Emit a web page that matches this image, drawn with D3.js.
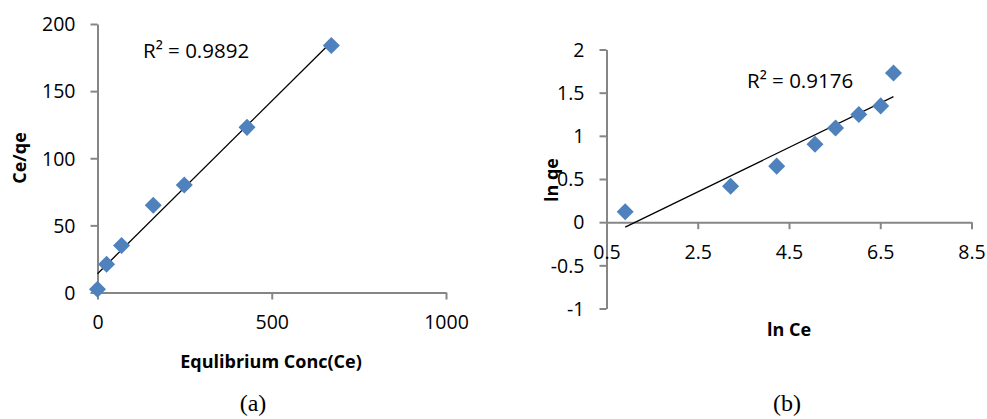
<!DOCTYPE html>
<html>
<head>
<meta charset="utf-8">
<script src="https://cdn.jsdelivr.net/npm/d3@7"></script>
<style>
  html, body { margin: 0; padding: 0; background: #fff; }
  svg { display: block; }
  text { font-family: "Open Sans", sans-serif; fill: #000; }
</style>
</head>
<body>
<svg id="chart" width="987" height="419"></svg>
<script>
// ---- Data: panel (a) Langmuir ----
const ceA = [0, 26, 69, 160, 249, 429, 671];
const ceqeA = [2.5, 21, 35, 65, 80, 123, 184];
const xTicksA = [0, 500, 1000];
const yTicksA = [0, 50, 100, 150, 200];
const r2LabelA = "R² = 0.9892";

// ---- Data: panel (b) Freundlich ----
const lnCeB = [0.91, 3.22, 4.23, 5.07, 5.52, 6.03, 6.51, 6.79];
const lnQeB = [0.12, 0.417, 0.649, 0.903, 1.092, 1.247, 1.347, 1.729];
const xTicksB = [0.5, 2.5, 4.5, 6.5, 8.5];
const xTickLabelsB = ["0.5", "2.5", "4.5", "6.5", "8.5"];
const yTicksB = [-1, -0.5, 0, 0.5, 1, 1.5, 2];
const yTickLabelsB = ["-1", "-0.5", "0", "0.5", "1", "1.5", "2"];
const r2LabelB = "R² = 0.9176";

const AXIS = "#868686";
const MARK = "#4F81BD";

const svg = d3.select("#chart");

function linreg(xs, ys) {
  const n = xs.length;
  const mx = d3.mean(xs), my = d3.mean(ys);
  let sxy = 0, sxx = 0;
  for (let i = 0; i < n; i++) { sxy += (xs[i]-mx)*(ys[i]-my); sxx += (xs[i]-mx)**2; }
  const m = sxy / sxx;
  return { m, b: my - m*mx };
}

function styleAxis(g) {
  g.select(".domain").attr("stroke", AXIS).attr("stroke-width", 2);
  g.selectAll(".tick line").attr("stroke", AXIS).attr("stroke-width", 2);
  g.selectAll(".tick text").attr("fill", "#000")
    .style("font-family", "'Open Sans', sans-serif").style("font-size", "19.5px");
}

function drawPanel(opt) {
  const { xs, ys, x, y, xTicks, xLabels, yTicks, yLabels, xAxisY, r2, r2pos, xTitle, xTitlePos, yTitle, yTitlePos, cap, capPos } = opt;

  // y axis
  const gy = svg.append("g").attr("transform", `translate(${x.range()[0]},0)`)
    .call(d3.axisLeft(y).tickValues(yTicks).tickFormat((d,i)=>yLabels[i]).tickSize(7).tickSizeOuter(0).tickPadding(15));
  styleAxis(gy);
  gy.selectAll(".tick text").attr("dy", "0.35em");

  // x axis
  const gx = svg.append("g").attr("transform", `translate(0,${xAxisY})`)
    .call(d3.axisBottom(x).tickValues(xTicks).tickFormat((d,i)=>xLabels[i]).tickSize(7).tickSizeOuter(0).tickPadding(15.5));
  styleAxis(gx);

  // trendline
  const { m, b } = linreg(xs, ys);
  const x0 = d3.min(xs), x1 = d3.max(xs);
  svg.append("line")
    .attr("x1", x(x0)).attr("y1", y(m*x0+b))
    .attr("x2", x(x1)).attr("y2", y(m*x1+b))
    .attr("stroke", "#000").attr("stroke-width", 1.3);

  // markers
  const sym = d3.symbol(d3.symbolSquare, 145);
  svg.append("g").selectAll("path").data(xs).join("path")
    .attr("d", sym)
    .attr("fill", MARK)
    .attr("transform", (d,i) => `translate(${x(d)},${y(ys[i])}) rotate(45)`);

  // R² label
  svg.append("text").attr("x", r2pos[0]).attr("y", r2pos[1])
    .style("font-size", "20.5px").text(r2);

  // axis titles
  svg.append("text").attr("x", xTitlePos[0]).attr("y", xTitlePos[1])
    .attr("text-anchor", "middle").style("font-weight", "bold").style("font-size", "18px")
    .text(xTitle);
  svg.append("text").attr("transform", `translate(${yTitlePos[0]},${yTitlePos[1]}) rotate(-90)`)
    .attr("text-anchor", "middle").style("font-weight", "bold").style("font-size", "18px")
    .text(yTitle);

  // caption
  svg.append("text").attr("x", capPos[0]).attr("y", capPos[1])
    .attr("text-anchor", "middle")
    .style("font-family", "'Liberation Serif', 'Times New Roman', serif").style("font-size", "24px")
    .text(cap);
}

// Panel (a)
const xA = d3.scaleLinear().domain([0, 1000]).range([97.5, 446]);
const yA = d3.scaleLinear().domain([0, 200]).range([292.5, 24]);
drawPanel({
  xs: ceA, ys: ceqeA, x: xA, y: yA,
  xTicks: xTicksA, xLabels: xTicksA.map(String),
  yTicks: yTicksA, yLabels: yTicksA.map(String),
  xAxisY: yA(0),
  r2: r2LabelA, r2pos: [143, 58],
  xTitle: "Equlibrium Conc(Ce)", xTitlePos: [271, 368],
  yTitle: "Ce/qe", yTitlePos: [26, 158],
  cap: "(a)", capPos: [253, 411]
});

// Panel (b)
const xB = d3.scaleLinear().domain([0.5, 8.5]).range([606.5, 971.5]);
const yB = d3.scaleLinear().domain([-1, 2]).range([308.5, 49.5]);
drawPanel({
  xs: lnCeB, ys: lnQeB, x: xB, y: yB,
  xTicks: xTicksB, xLabels: xTickLabelsB,
  yTicks: yTicksB, yLabels: yTickLabelsB,
  xAxisY: yB(0),
  r2: r2LabelB, r2pos: [747, 87.5],
  xTitle: "ln Ce", xTitlePos: [789, 336],
  yTitle: "ln qe", yTitlePos: [558, 180],
  cap: "(b)", capPos: [787, 411]
});
</script>
</body>
</html>
